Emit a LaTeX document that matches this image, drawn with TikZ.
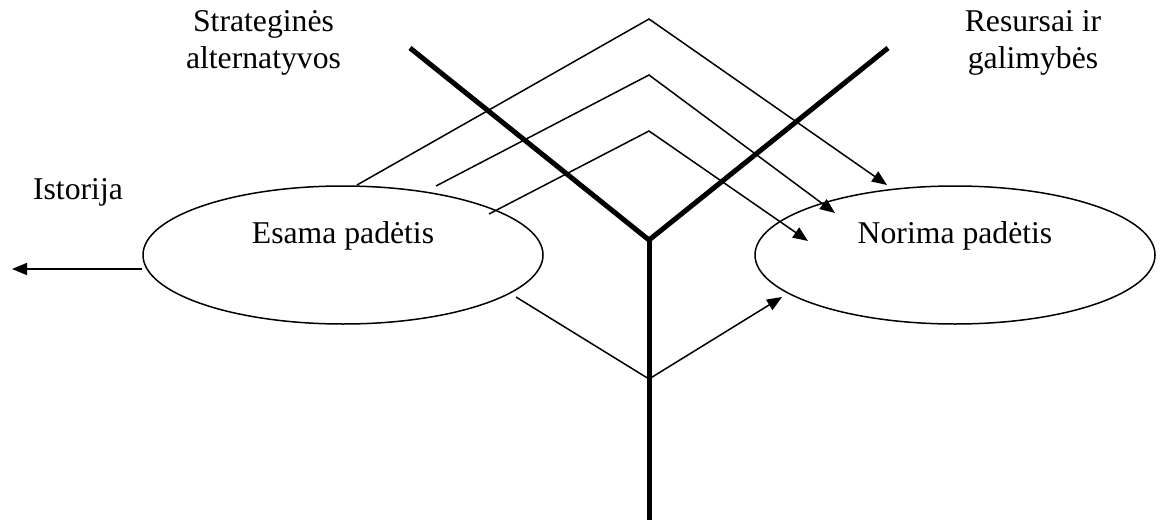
\documentclass[tikz,border=0pt]{standalone}
\usepackage{fontspec}
\setmainfont{Liberation Serif}
\usetikzlibrary{arrows.meta,shapes.geometric}
\begin{document}
\begin{tikzpicture}[x=1pt,y=-1pt,
  lbl/.style={font=\fontsize{31.7pt}{36.5pt}\selectfont, inner sep=0pt, align=center},
  situation/.style={ellipse, draw, line width=1.5pt, minimum width=400pt, minimum height=138pt, inner sep=0pt},
  axisline/.style={line width=5pt, line join=miter},
  plainline/.style={line width=1.5pt},
  link/.style={line width=1.5pt, -{Triangle[length=15pt,width=12pt]}}
]
\useasboundingbox (0,0) rectangle (1161,519);

% situations
\node[situation] (esama) at (343,255) {};
\node[lbl, anchor=base] (esamaT) at (343,243) {Esama padėtis};
\node[situation] (norima) at (955,255) {};
\node[lbl, anchor=base] (norimaT) at (955,243) {Norima padėtis};

% labels
\node[lbl, anchor=base] (ist) at (78,199) {Istorija};
\node[lbl, anchor=base] (strat) at (263.5,68) {Strateginės\\alternatyvos};
\node[lbl, anchor=base] (res) at (1033,68) {Resursai ir\\galimybės};

% thick Y
\coordinate (vL) at (410,48);
\coordinate (vR) at (888,48);
\coordinate (vC) at (649,240);
\coordinate (vB) at (649,522);
\draw[axisline] (vL) -- (vC) -- (vR);
\draw[axisline] (vC) -- (vB);

% history arrow
\coordinate (histEnd) at (12,269);
\draw[link] ([yshift=-14pt]esama.west) -- (histEnd);

% chevrons
\coordinate (a1) at (357,185);
\coordinate (p1) at (649,19);
\coordinate (t1) at (887,185);
\coordinate (a2) at (436,186);
\coordinate (p2) at (649,75);
\coordinate (t2) at (835,213);
\coordinate (a3) at (489,214);
\coordinate (p3) at (649,131);
\coordinate (t3) at (808,241);
\draw[link] (a1) -- (p1) -- (t1);
\draw[link] (a2) -- (p2) -- (t2);
\draw[link] (a3) -- (p3) -- (t3);

% bottom chevron
\coordinate (b0) at (516,297);
\coordinate (bv) at (649,379);
\coordinate (bt) at (782,297);
\draw[link] (b0) -- (bv) -- (bt);
\end{tikzpicture}
\end{document}
